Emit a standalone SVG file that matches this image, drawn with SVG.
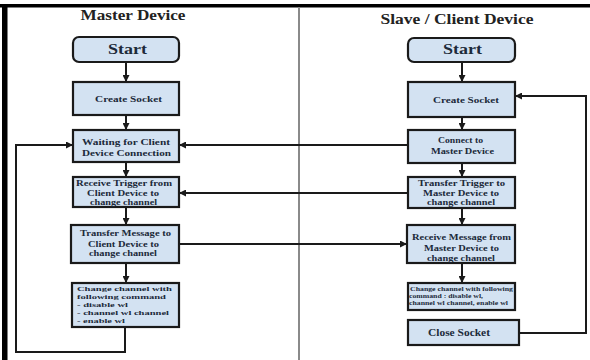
<svg xmlns="http://www.w3.org/2000/svg" width="590" height="360" viewBox="0 0 590 360">
<style>
.box{fill:#d3e2f2;stroke:#1a1a1a;stroke-width:2.2}
text{font-family:"Liberation Serif","Times New Roman",serif;font-weight:bold;fill:#1c2a3a}
.t{text-anchor:middle;font-size:8.5px}
.tl{font-size:7px}
.h{fill:#222;text-anchor:middle;font-size:15px}
.c{fill:none;stroke:#1a1a1a;stroke-width:2}
</style>
<defs>
<marker id="ah" viewBox="0 0 10 10" refX="10" refY="5" markerWidth="3.5" markerHeight="3.5" orient="auto" markerUnits="strokeWidth">
<path d="M0,0 L10,5 L0,10 z" fill="#1a1a1a"/>
</marker>
</defs>
<rect width="590" height="360" fill="#fff"/>
<g id="frame">
<rect x="0" y="4" width="590" height="3.5" fill="#000"/>
<rect x="2" y="4" width="5.5" height="356" fill="#000"/>
<line x1="299" y1="7" x2="299" y2="360" stroke="#8a8a8a" stroke-width="2"/>
<text class="h" x="133" y="20" textLength="105" lengthAdjust="spacingAndGlyphs">Master Device</text>
<text class="h" x="457" y="24" textLength="153" lengthAdjust="spacingAndGlyphs">Slave / Client Device</text>
</g>
<g id="connectors">
<line class="c" x1="126" y1="62" x2="126" y2="82" marker-end="url(#ah)"/>
<line class="c" x1="126" y1="115" x2="126" y2="130" marker-end="url(#ah)"/>
<line class="c" x1="126" y1="162" x2="126" y2="177" marker-end="url(#ah)"/>
<line class="c" x1="126" y1="207" x2="126" y2="225" marker-end="url(#ah)"/>
<line class="c" x1="126" y1="263" x2="126" y2="283" marker-end="url(#ah)"/>
<polyline class="c" points="125,327 125,352 16,352 16,145 73,145" marker-end="url(#ah)"/>
<line class="c" x1="462" y1="62" x2="462" y2="82" marker-end="url(#ah)"/>
<line class="c" x1="462" y1="117" x2="462" y2="130" marker-end="url(#ah)"/>
<line class="c" x1="462" y1="163" x2="462" y2="177" marker-end="url(#ah)"/>
<line class="c" x1="462" y1="208" x2="462" y2="225" marker-end="url(#ah)"/>
<line class="c" x1="462" y1="263" x2="462" y2="283" marker-end="url(#ah)"/>
<polyline class="c" points="519,333 586,333 586,96 515,96" marker-end="url(#ah)"/>
<line class="c" x1="408" y1="145" x2="179" y2="145" marker-end="url(#ah)"/>
<line class="c" x1="408" y1="193" x2="179" y2="193" marker-end="url(#ah)"/>
<line class="c" x1="179" y1="244" x2="407" y2="244" marker-end="url(#ah)"/>
</g>
<g id="m-start">
<rect class="box" x="73" y="37" width="106" height="25" rx="6"/>
<text class="t" x="127.5" y="54" style="font-size:14px" textLength="39" lengthAdjust="spacingAndGlyphs">Start</text>
</g>
<g id="m-create">
<rect class="box" x="73" y="82" width="106" height="33"/>
<text class="t" x="128.5" y="102" style="font-size:9px" textLength="67" lengthAdjust="spacingAndGlyphs">Create Socket</text>
</g>
<g id="m-wait">
<rect class="box" x="73" y="130" width="106" height="32"/>
<text class="t" x="126" y="145" textLength="88" lengthAdjust="spacingAndGlyphs">Waiting for Client</text>
<text class="t" x="126.5" y="155.5" textLength="89" lengthAdjust="spacingAndGlyphs">Device Connection</text>
</g>
<g id="m-recv">
<rect class="box" x="73" y="177" width="106" height="30"/>
<text class="t" x="124" y="185.5" style="font-size:8px" textLength="96" lengthAdjust="spacingAndGlyphs">Receive Trigger from</text>
<text class="t" x="123" y="196" style="font-size:8px" textLength="72" lengthAdjust="spacingAndGlyphs">Client Device to</text>
<text class="t" x="123.5" y="205" style="font-size:8px" textLength="67" lengthAdjust="spacingAndGlyphs">change channel</text>
</g>
<g id="m-transfer">
<rect class="box" x="71" y="225" width="108" height="38"/>
<text class="t" x="125.5" y="236" textLength="91" lengthAdjust="spacingAndGlyphs">Transfer Message to</text>
<text class="t" x="123.5" y="246.5" textLength="71" lengthAdjust="spacingAndGlyphs">Client Device to</text>
<text class="t" x="123" y="256" textLength="68" lengthAdjust="spacingAndGlyphs">change channel</text>
</g>
<g id="m-change">
<rect class="box" x="72" y="283" width="107" height="44"/>
<text class="tl" x="77" y="290.5" textLength="95" lengthAdjust="spacingAndGlyphs">Change channel with</text>
<text class="tl" x="77" y="298.5" textLength="89" lengthAdjust="spacingAndGlyphs">following command</text>
<text class="tl" x="77" y="306.5" textLength="51" lengthAdjust="spacingAndGlyphs">- disable wl</text>
<text class="tl" x="77" y="314.5" textLength="92" lengthAdjust="spacingAndGlyphs">- channel wl channel</text>
<text class="tl" x="77" y="322.5" textLength="48" lengthAdjust="spacingAndGlyphs">- enable wl</text>
</g>
<g id="s-start">
<rect class="box" x="408" y="38" width="107" height="24" rx="6"/>
<text class="t" x="462.5" y="54" style="font-size:14px" textLength="39" lengthAdjust="spacingAndGlyphs">Start</text>
</g>
<g id="s-create">
<rect class="box" x="408" y="82" width="107" height="35"/>
<text class="t" x="466" y="103" style="font-size:9px" textLength="66" lengthAdjust="spacingAndGlyphs">Create Socket</text>
</g>
<g id="s-connect">
<rect class="box" x="408" y="130" width="107" height="33"/>
<text class="t" x="460.5" y="143" textLength="45" lengthAdjust="spacingAndGlyphs">Connect to</text>
<text class="t" x="462.5" y="153.5" textLength="63" lengthAdjust="spacingAndGlyphs">Master Device</text>
</g>
<g id="s-transfer">
<rect class="box" x="408" y="177" width="107" height="31"/>
<text class="t" x="461.5" y="185.5" style="font-size:8px" textLength="87" lengthAdjust="spacingAndGlyphs">Transfer Trigger to</text>
<text class="t" x="461" y="196" style="font-size:8px" textLength="76" lengthAdjust="spacingAndGlyphs">Master Device to</text>
<text class="t" x="461" y="205" style="font-size:8px" textLength="68" lengthAdjust="spacingAndGlyphs">change channel</text>
</g>
<g id="s-recv">
<rect class="box" x="407" y="225" width="108" height="38"/>
<text class="t" x="461.5" y="240" textLength="99" lengthAdjust="spacingAndGlyphs">Receive Message from</text>
<text class="t" x="461.5" y="250.5" textLength="75" lengthAdjust="spacingAndGlyphs">Master Device to</text>
<text class="t" x="461" y="261" textLength="68" lengthAdjust="spacingAndGlyphs">change channel</text>
</g>
<g id="s-change">
<rect class="box" x="408" y="283" width="107" height="27"/>
<text class="tl" x="410" y="291" style="font-size:6px" textLength="103" lengthAdjust="spacingAndGlyphs">Change channel with following</text>
<text class="tl" x="409" y="298" style="font-size:6px" textLength="74" lengthAdjust="spacingAndGlyphs">command : disable wl,</text>
<text class="tl" x="409" y="305" style="font-size:6px" textLength="99" lengthAdjust="spacingAndGlyphs">channel wl channel, enable wl</text>
</g>
<g id="s-close">
<rect class="box" x="408" y="320" width="111" height="25"/>
<text class="t" x="459" y="336" style="font-size:10.5px" textLength="62" lengthAdjust="spacingAndGlyphs">Close Socket</text>
</g>
</svg>
